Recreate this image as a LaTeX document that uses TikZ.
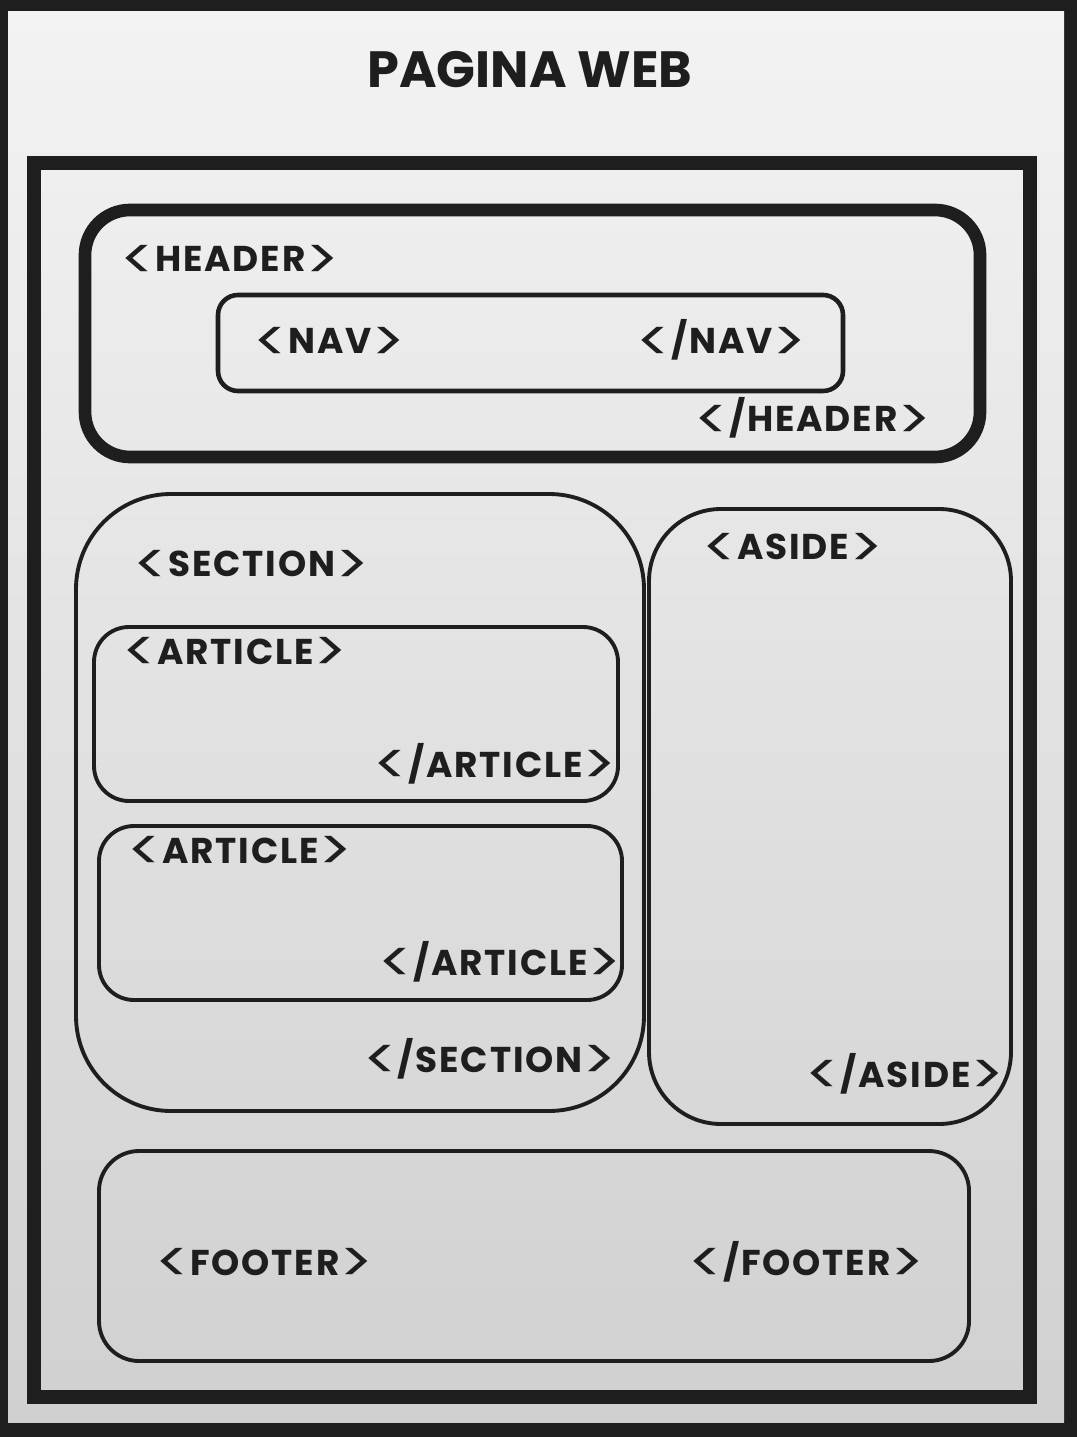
\documentclass[tikz,border=0pt]{standalone}
\usepackage{graphicx}
\usepackage{fontspec}
\setmainfont{Poppins}
\definecolor{ink}{RGB}{30,30,30}
\definecolor{bgtop}{RGB}{243,243,243}
\definecolor{bgmid}{RGB}{237,237,237}
\definecolor{bgbot}{RGB}{208,208,208}
% angle brackets as wide as in the sketch
\newcommand{\brk}[1]{\raisebox{-0.2em}{\scalebox{1.75}[1.6]{\mdseries#1}}}
\newcommand{\opentag}[1]{\brk{<}#1\brk{>}}
\newcommand{\closetag}[1]{\brk{<}/#1\brk{>}}

\begin{document}
\begin{tikzpicture}[
    x=0.01cm, y=-0.01cm,
    page/.style={fill=ink},
    sheet/.style={top color=bgtop, middle color=bgmid, bottom color=bgbot},
    body/.style={draw=ink, line width=4pt},
    header/.style={draw=ink, line width=3.6pt, rounded corners=0.45cm},
    part/.style={draw=ink, line width=1.1pt},
    title/.style={font=\bfseries\fontsize{14.5}{16}\selectfont, text=ink, inner sep=0},
    tag/.style={font=\bfseries\fontsize{10.2}{12}\selectfont\addfontfeatures{LetterSpace=5}, text=ink, inner sep=0},
]
% page and background
\fill[page] (0,0) rectangle (1077,1437);
\useasboundingbox (0,0) rectangle (1077,1437);
\shade[sheet] (8,12) rectangle (1064,1422);
\node[title, anchor=base] (web) at (530,88) {PAGINA WEB};
% body
\draw[body] (34,163) rectangle (1030,1397);
% header with nav
\draw[header] (85,210) rectangle (980,457);
\node[tag, anchor=base west] (headopen) at (120,272) {\opentag{HEADER}};
\node[tag, anchor=base east] (headclose) at (932,432) {\closetag{HEADER}};
\draw[part, line width=1.3pt, rounded corners=0.2cm] (218,295) rectangle (843,391);
\node[tag, anchor=base west] (navopen) at (253,354) {\opentag{NAV}};
\node[tag, anchor=base east] (navclose) at (807,354) {\closetag{NAV}};
% section with two articles
\draw[part, rounded corners=0.95cm] (76,494) rectangle (644,1111);
\node[tag, anchor=base west] (secopen) at (133,577) {\opentag{SECTION}};
\node[tag, anchor=base east] (secclose) at (617,1072) {\closetag{SECTION}};
\draw[part, rounded corners=0.35cm] (94,627) rectangle (618,801);
\node[tag, anchor=base west] (artopen) at (122,664) {\opentag{ARTICLE}};
\node[tag, anchor=base east] (artclose) at (617,777) {\closetag{ARTICLE}};
\draw[part, rounded corners=0.35cm] (99,826) rectangle (622,1000);
\node[tag, anchor=base west] (artopenb) at (127,863) {\opentag{ARTICLE}};
\node[tag, anchor=base east] (artcloseb) at (622,975) {\closetag{ARTICLE}};
% aside
\draw[part, rounded corners=0.72cm] (649,509) rectangle (1011,1124);
\node[tag, anchor=base west] (asideopen) at (702,560) {\opentag{ASIDE}};
\node[tag, anchor=base east] (asideclose) at (1005,1087) {\closetag{ASIDE}};
% footer
\draw[part, rounded corners=0.4cm] (99,1151) rectangle (969,1361);
\node[tag, anchor=base west] (footopen) at (155,1275) {\opentag{FOOTER}};
\node[tag, anchor=base east] (footclose) at (925,1275) {\closetag{FOOTER}};
\end{tikzpicture}
\end{document}
